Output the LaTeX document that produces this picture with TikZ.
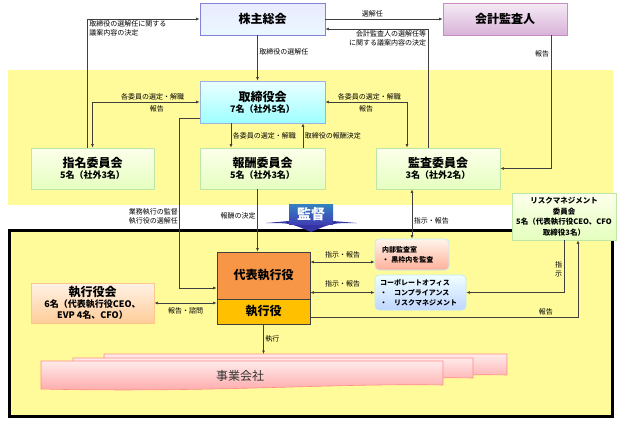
\documentclass[tikz,border=0pt]{standalone}
\usepackage{fontspec}
\setmainfont{Noto Sans CJK JP}
\usetikzlibrary{arrows.meta,calc}
\definecolor{band}{HTML}{FFFB9B}
\definecolor{wire}{HTML}{3F3F3F}
\definecolor{ceofill}{HTML}{F79646}
\definecolor{eofill}{HTML}{FFC000}

\begin{document}
\begin{tikzpicture}[x=1pt,y=-1pt,>={Latex[length=3.5pt,width=2.8pt]},
	wire/.style={draw=wire,line width=0.6pt},
	lbl/.style={font=\fontsize{7}{8.5}\selectfont,inner sep=1.5pt,align=center},
	box/.style={line width=0.7pt,align=center,inner sep=1pt,font=\fontsize{9}{11}\selectfont},
	gm/.style={box,draw=blue!40!white!85!black,top color=blue!8,bottom color=blue!35!cyan!10!white!85},
	aud/.style={box,draw=violet!45,top color=violet!8,bottom color=violet!30},
	bod/.style={box,draw=cyan!45!blue!40,top color=cyan!8,bottom color=cyan!38},
	cmt/.style={box,draw=green!45!olive!35,top color=green!15!yellow!8,bottom color=green!40!yellow!25},
	ec/.style={box,draw=orange!45,top color=orange!10,bottom color=orange!40},
	doc/.style={line width=0.6pt,draw=red!45,top color=red!8,bottom color=red!35}]
	\newcommand{\HD}[1]{{\fontsize{12}{14}\selectfont\bfseries #1}}
	\newcommand{\SB}[1]{{\fontsize{9}{11}\selectfont\bfseries #1}}
	\useasboundingbox (0,0) rectangle (624,426);
	% areas
	\fill[band] (8,70) rectangle (613,205);
	\draw[line width=3pt,fill=band] (9.5,230) rectangle (612,416);
	% board side
	\node[gm,minimum width=125pt,minimum height=32pt] (GM) at (262.5,19) {\HD{株主総会}};
	\node[aud,minimum width=124pt,minimum height=32pt] (AUD) at (505,19) {\HD{会計監査人}};
	\node[bod,minimum width=125pt,minimum height=42pt] (BOD) at (262.5,102) {\HD{取締役会}\\\SB{7名（社外5名）}};
	\node[cmt,minimum width=123pt,minimum height=41pt] (NOM) at (92.5,168.5) {\HD{指名委員会}\\\SB{5名（社外3名）}};
	\node[cmt,minimum width=125pt,minimum height=41pt] (COMP) at (262.5,168.5) {\HD{報酬委員会}\\\SB{5名（社外3名）}};
	\node[cmt,minimum width=124pt,minimum height=41pt] (AC) at (438,168.5) {\HD{監査委員会}\\\SB{3名（社外2名）}};
	% execution side
	\node[draw=wire,line width=0.7pt,fill=ceofill,minimum width=93pt,minimum height=47pt,inner sep=0pt] (CEO) at (263.5,275.5) {\HD{代表執行役}};
	\node[draw=wire,line width=0.7pt,fill=eofill,minimum width=93pt,minimum height=25pt,inner sep=0pt] (EO) at (263.5,311.5) {\HD{執行役}};
	\node[ec,minimum width=123pt,minimum height=40pt] (EC) at (92.5,303) {\HD{執行役会}\\\SB{6名（代表執行役CEO、}\\\SB{EVP 4名、CFO）}};
	\node[box,draw=cyan!25,rounded corners=4pt,top color=orange!8,bottom color=orange!45!red!40,
		text width=60pt,inner xsep=7pt,minimum height=31pt,align=left,font=\fontsize{7}{10}\selectfont\bfseries] (IA) at (412,254.5) {内部監査室\\・ 黒枠内を監査};
	\node[box,draw=cyan!25,rounded corners=4pt,top color=cyan!6,bottom color=cyan!35!blue!25,
		text width=81pt,inner xsep=5pt,minimum height=35pt,align=left,font=\fontsize{7}{10}\selectfont\bfseries] (CO) at (420.5,292.5) {コーポレートオフィス\\・　コンプライアンス\\・　リスクマネジメント};
	\node[cmt,minimum width=104pt,minimum height=47pt,font=\fontsize{7.5}{10.5}\selectfont\bfseries] (RISK) at (564,216.5) {リスクマネジメント\\委員会\\5名（代表執行役CEO、CFO\\取締役3名）};
	% operating companies
	\foreach \xa/\xb/\ya/\yb in {104/507/354/379, 73/473/358/382, 41/443/361/389}
		\draw[doc] (\xa,\ya) -- (\xb,\ya) -- (\xb,\yb-4) .. controls ({\xb-110},{\yb-6}) and ({\xa+170},{\yb+4}) .. (\xa,\yb) -- cycle;
	\node[font=\fontsize{12}{14}\selectfont,text=black!80] (BIZ) at (240,376) {事業会社};
	\coordinate (BIZtop) at (262,354);
	% supervision badge
	\fill[blue!55!black!80] (266,223) .. controls (290,223) .. (311,232) .. controls (332,223) .. (357,223) -- (333,221) -- (289,221) -- cycle;
	\node[top color=blue!45!cyan!70!black!80,bottom color=blue!60!black!75,minimum width=44pt,minimum height=20pt,inner sep=0pt,
		text=white,font=\fontsize{14}{16}\selectfont\bfseries] (SV) at (311,214) {監督};
	% connectors
	\draw[wire,->] ($(NOM.north)+(-5,0)$) |- node[pos=0.5,below right,lbl,align=left]{取締役の選解任に関する\\議案内容の決定} (GM.west);
	\draw[wire,->] ($(GM.south)+(-5,0)$) -- node[pos=0.37,right,lbl]{取締役の選解任} ($(BOD.north)+(-5,0)$);
	\draw[wire,->] (GM.east) -- node[pos=0.4,above,lbl]{選解任} (AUD.west);
	\draw[wire,->] ($(AC.north)+(-10,0)$) |- node[pos=0.5,below left,lbl,align=right]{会計監査人の選解任等\\に関する議案内容の決定} ($(GM.east)+(0,10)$);
	\draw[wire,->] ($(AUD.south)+(46,0)$) |- node[pos=0.07,left,lbl]{報告} (AC.east);
	\draw[wire,<->] (BOD.west) -| node[pos=0.22,above,lbl]{各委員の選定・解職} node[pos=0.2,below=2pt,lbl]{報告} (NOM.north);
	\draw[wire,<->] (BOD.east) -| node[pos=0.27,above,lbl]{各委員の選定・解職} node[pos=0.25,below=2pt,lbl]{報告} ($(AC.north)+(-31,0)$);
	\draw[wire,->] ($(BOD.south)+(-31.5,0)$) -- node[midway,right,lbl]{各委員の選定・解職} ($(COMP.north)+(-31.5,0)$);
	\draw[wire,->] ($(COMP.north)+(40.5,0)$) -- node[midway,right,lbl]{取締役の報酬決定} ($(BOD.south)+(40.5,0)$);
	\draw[wire,->] ($(BOD.west)+(0,16)$) -- ($(BOD.west)+(-20,16)$) |- node[pos=0.29,left,lbl,align=right]{業務執行の監督\\執行役の選解任} ($(CEO.west)+(0,12.5)$);
	\draw[wire,->] ($(COMP.south)+(-5,0)$) -- node[pos=0.43,left,lbl]{報酬の決定} ($(CEO.north)+(-6,0)$);
	\draw[wire,<->] ($(AC.south)+(-26,0)$) -- node[pos=0.64,right,lbl]{指示・報告} (IA.north);
	\draw[wire,<->] ($(CEO.east)+(0,-13.5)$) -- node[midway,above=2pt,lbl]{指示・報告} ($(IA.west)+(0,7.5)$);
	\draw[wire,<->] (CEO.east |- CO.west) -- node[midway,above=4pt,lbl]{指示・報告} (CO.west);
	\draw[wire,->] (RISK.south) |- node[pos=0.28,left,lbl]{指\\示} (CO.east);
	\draw[wire,->] ($(EO.east)+(0,5.5)$) -| node[pos=0.44,above,lbl]{報告} ($(RISK.south)+(14,0)$);
	\draw[wire,<->] (EC.east) -- node[midway,below=3pt,lbl]{報告・諮問} (EC.east -| CEO.west);
	\draw[wire,->] (EO.south) -- node[midway,right,lbl]{執行} (EO.south |- BIZtop);
\end{tikzpicture}
\end{document}
